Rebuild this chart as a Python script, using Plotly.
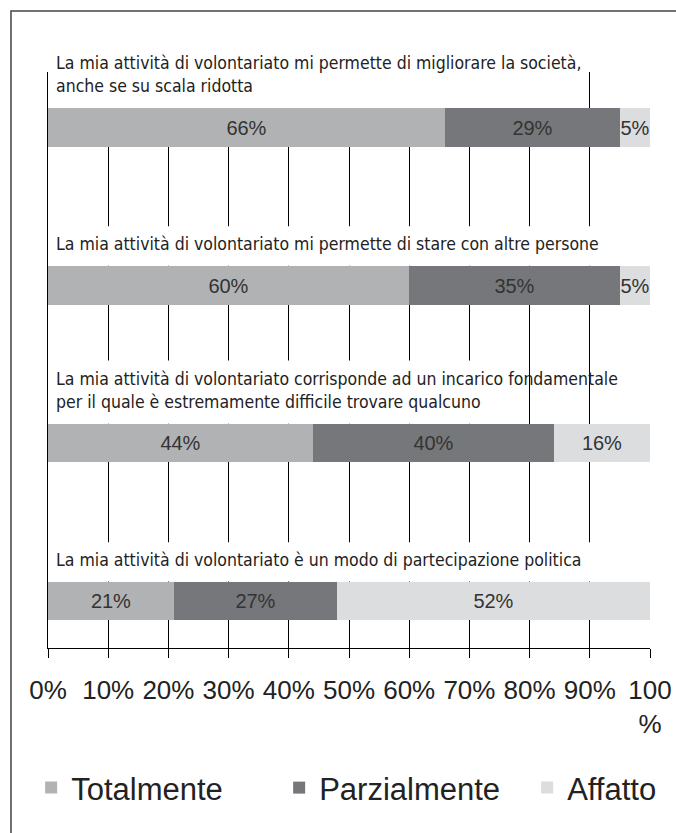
import plotly.graph_objects as go

categories = [
    "La mia attività di volontariato mi permette di migliorare la società,<br>anche se su scala ridotta",
    "La mia attività di volontariato mi permette di stare con altre persone",
    "La mia attività di volontariato corrisponde ad un incarico fondamentale<br>per il quale è estremamente difficile trovare qualcuno",
    "La mia attività di volontariato è un modo di partecipazione politica",
]
totalmente = [66, 60, 44, 21]
parzialmente = [29, 35, 40, 27]
affatto = [5, 5, 16, 52]

tick_vals = [0, 10, 20, 30, 40, 50, 60, 70, 80, 90, 100]
tick_text = ["0%", "10%", "20%", "30%", "40%", "50%", "60%", "70%", "80%", "90%", "100<br>%"]

COND = "DejaVu Sans Condensed, sans-serif"
ARIAL = "Liberation Sans, Arial, sans-serif"
BAR_W = 0.245

# categories go top to bottom
ypos = [len(categories) - 1 - i for i in range(len(categories))]

series = [
    ("Totalmente", totalmente, "#b1b2b4", 203),
    ("Parzialmente", parzialmente, "#76777a", 203),
    ("Affatto", affatto, "#dcdddf", None),
]

fig = go.Figure()
for name, vals, col, lw in series:
    fig.add_trace(go.Bar(
        y=ypos, x=vals, name=name, orientation="h", width=BAR_W,
        marker=dict(color=col, line=dict(width=0)),
        text=[f"{v}%" for v in vals], textposition="inside",
        insidetextanchor="middle", textangle=0,
        textfont=dict(family=ARIAL, size=20, color="#333333"),
        legendwidth=lw,
        hoverinfo="skip",
    ))

# white boxes behind the question texts hide the gridlines
cover_w = [88, 95, 75, 92]
cover_h = [0.45, 0.25, 0.40, 0.25]
shapes = []
annotations = []
for i, q in enumerate(categories):
    top = ypos[i] + BAR_W / 2
    shapes.append(dict(type="rect", layer="between", xref="x", yref="y",
                       x0=0.3, x1=cover_w[i], y0=top, y1=top + cover_h[i],
                       fillcolor="white", line=dict(width=0)))
    annotations.append(dict(x=1.0, y=top + 0.06, xref="x", yref="y",
                            text=q, showarrow=False, xanchor="left", yanchor="bottom",
                            align="left", font=dict(family=COND, size=17.5, color="#222222")))

# outer frame
shapes.append(dict(type="rect", xref="paper", yref="paper", x0=-0.0615, x1=1.2,
                   y0=-0.5, y1=1.106, line=dict(color="#444444", width=1.5),
                   fillcolor="rgba(0,0,0,0)", layer="above"))

fig.update_layout(
    width=676, height=833,
    margin=dict(l=48, r=26, t=72, b=185, autoexpand=False),
    barmode="stack",
    bargap=0,
    plot_bgcolor="white", paper_bgcolor="white",
    xaxis=dict(range=[0, 100], tickvals=tick_vals, ticktext=tick_text, tickangle=0,
               showgrid=True, gridcolor="black", gridwidth=1,
               showline=True, linecolor="black", linewidth=1,
               ticks="outside", ticklen=9, tickcolor="black", ticklabelstandoff=10,
               tickfont=dict(family=ARIAL, size=26, color="#222222"),
               zeroline=False, automargin=False),
    yaxis=dict(range=[-0.298, 3.35], showticklabels=False, showgrid=False,
               zeroline=False, showline=True, linecolor="black", linewidth=1,
               automargin=False),
    showlegend=True,
    legend=dict(orientation="h", x=-0.028, xanchor="left", y=-0.243, yanchor="middle",
                font=dict(family=ARIAL, size=31, color="#222222"),
                itemwidth=30, traceorder="normal"),
    uniformtext=dict(minsize=20, mode="show"),
    shapes=shapes,
    annotations=annotations,
)

fig.write_html("out.html", config={"displayModeBar": False},
               post_script="document.body.style.margin='0px';")
